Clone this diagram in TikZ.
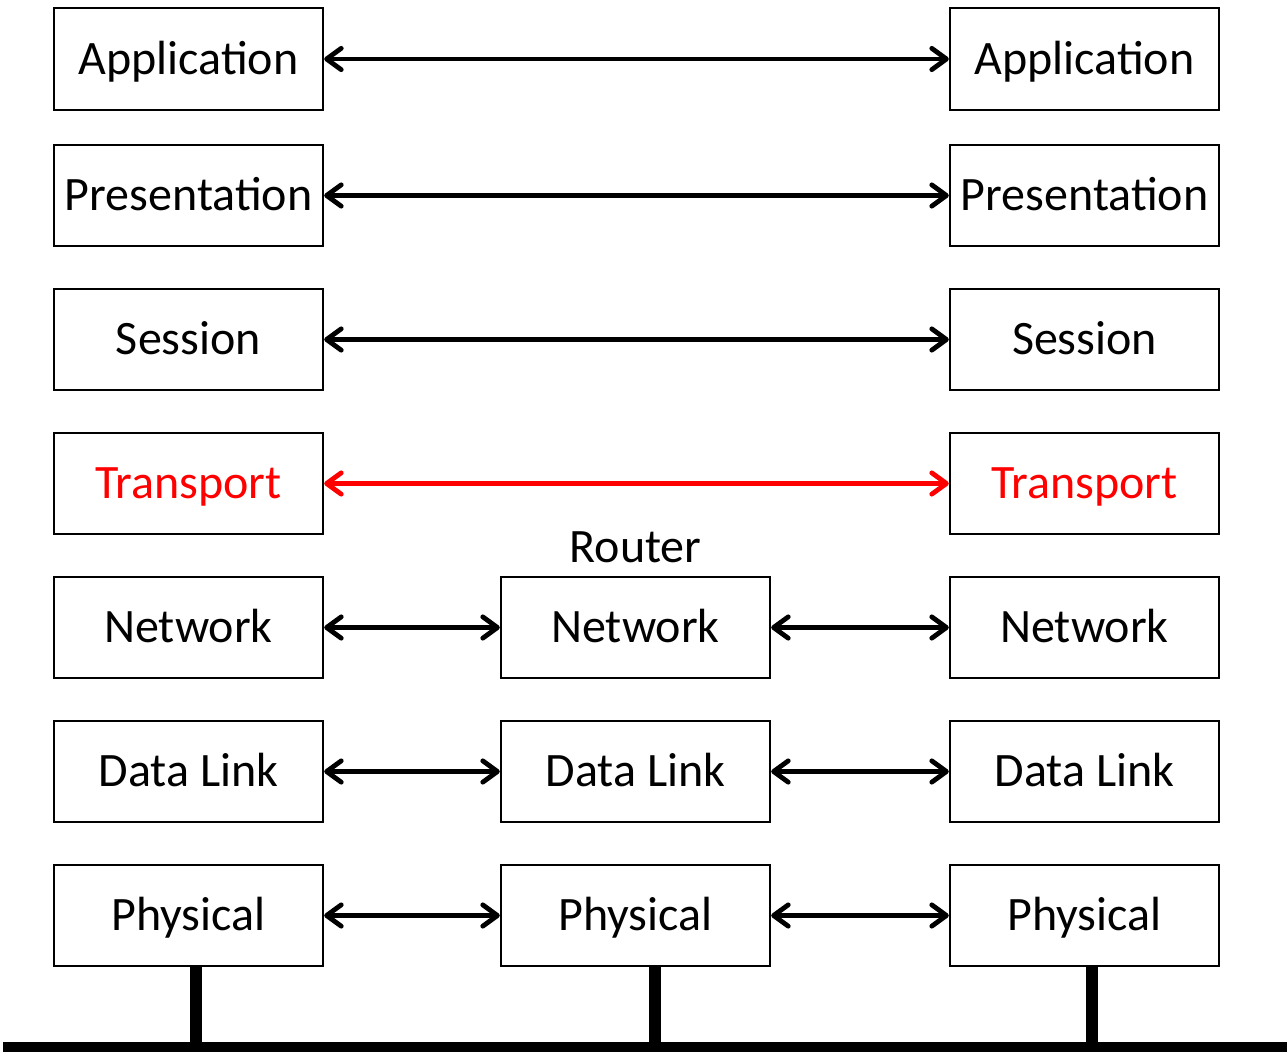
\documentclass[tikz,border=0pt]{standalone}
\usepackage{fontspec}
\setmainfont{Carlito}
\usepackage{tikz}
\usetikzlibrary{arrows.meta}

\begin{document}
\begin{tikzpicture}[x=0.75pt,y=-0.75pt,
    layer/.style={draw=black,line width=1.5pt,minimum width=202pt,minimum height=76pt,inner sep=0pt,text height=23pt,text depth=0pt,font=\fontsize{36}{43}\selectfont},
    link/.style={{Straight Barb[round,length=11pt,width=16pt]}-{Straight Barb[round,length=11pt,width=16pt]},line width=3.6pt}]
    \useasboundingbox (0,0) rectangle (1287,1052);
    \node[layer] (app1) at (188.5,59) {Application};
     \node[layer] (app2) at (1084.5,59) {Application};
    \node[layer] (pre1) at (188.5,195.5) {Presentation};
     \node[layer] (pre2) at (1084.5,195.5) {Presentation};
    \node[layer] (ses1) at (188.5,339.5) {Session};
     \node[layer] (ses2) at (1084.5,339.5) {Session};
    \node[layer,text=red] (tra1) at (188.5,483.5) {Transport};
     \node[layer,text=red] (tra2) at (1084.5,483.5) {Transport};
    \node[layer] (net1) at (188.5,627.5) {Network};
     \node[layer] (netr) at (635.5,627.5) {Network};
      \node[layer] (net2) at (1084.5,627.5) {Network};
    \node[layer] (dat1) at (188.5,771.5) {Data Link};
     \node[layer] (datr) at (635.5,771.5) {Data Link};
      \node[layer] (dat2) at (1084.5,771.5) {Data Link};
    \node[layer] (phy1) at (188.5,915.5) {Physical};
     \node[layer] (phyr) at (635.5,915.5) {Physical};
      \node[layer] (phy2) at (1084.5,915.5) {Physical};
    \node[font=\fontsize{36}{43}\selectfont,anchor=base,inner sep=0pt] (router) at ([yshift=10pt]netr.north) {Router};
    % peer links
    \draw [link] (app1) -- (app2);
    \draw [link] (pre1) -- (pre2);
    \draw [link] (ses1) -- (ses2);
    \draw [link,red] (tra1) -- (tra2);
    \draw [link] (net1) -- (netr);
    \draw [link] (netr) -- (net2);
    \draw [link] (dat1) -- (datr);
    \draw [link] (datr) -- (dat2);
    \draw [link] (phy1) -- (phyr);
    \draw [link] (phyr) -- (phy2);
    % wire
    \coordinate (bus1) at (3,1047);
    \coordinate (bus2) at (1287,1047);
    \draw [line width=7.5pt] (bus1) -- (bus2);
    \draw [line width=9pt] ([xshift=5.6pt]phy1.south) -- ([xshift=5.6pt]phy1.south |- bus1);
    \draw [line width=9pt] ([xshift=14.6pt]phyr.south) -- ([xshift=14.6pt]phyr.south |- bus1);
    \draw [line width=9pt] ([xshift=5.6pt]phy2.south) -- ([xshift=5.6pt]phy2.south |- bus1);
\end{tikzpicture}
\end{document}
